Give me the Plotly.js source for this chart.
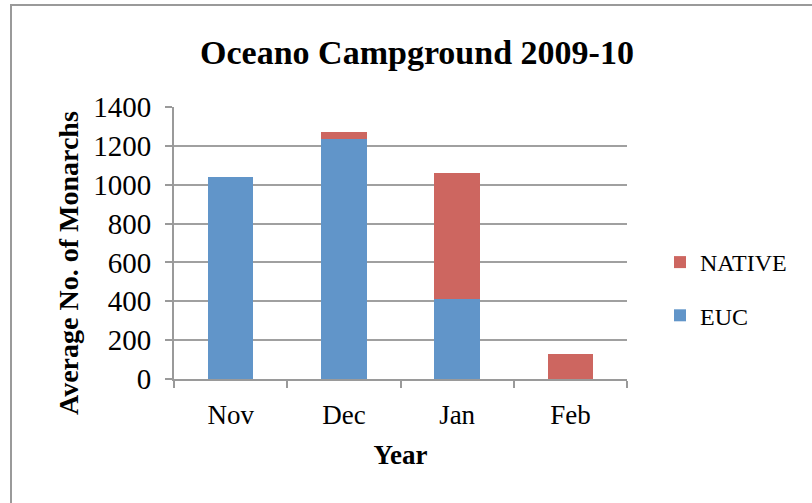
<!DOCTYPE html>
<html><head><meta charset="utf-8">
<script src="https://cdn.plot.ly/plotly-3.0.1.min.js"></script>
<style>
html,body{margin:0;padding:0;background:#fff;}
#wrap{position:relative;width:812px;height:503px;overflow:hidden;}
#chart{position:absolute;left:0;top:0;width:812px;height:503px;}
#frame{position:absolute;left:10px;top:4px;width:820px;height:520px;border-left:2px solid #9a9a9a;border-top:2px solid #9a9a9a;pointer-events:none;}
</style></head>
<body><div id="wrap"><div id="chart"></div><div id="frame"></div></div>
<script>
var months = ["Nov", "Dec", "Jan", "Feb"];
var eucValues = [1040, 1235, 410, 0];
var nativeValues = [0, 35, 650, 130];
var yTicks = [0, 200, 400, 600, 800, 1000, 1200, 1400];

var serif = "'Liberation Serif', 'Times New Roman', serif";
var traces = [
  {type: "bar", name: "EUC", x: months, y: eucValues, marker: {color: "#6195c9"}, legendgroup: "a", legendrank: 2, hoverinfo: "skip"},
  {type: "bar", name: "NATIVE", x: months, y: nativeValues, marker: {color: "#cd6660"}, legendgroup: "b", legendrank: 1, hoverinfo: "skip"}
];
var layout = {
  width: 812, height: 503,
  margin: {l: 174, r: 185, t: 107, b: 124},
  paper_bgcolor: "#fff", plot_bgcolor: "#fff",
  barmode: "stack", bargap: 0.6,
  font: {family: serif, color: "#000", size: 22},
  title: {text: "<b>Oceano Campground 2009-10</b>", font: {family: serif, size: 34, color: "#000"}, x: 417/812, xref: "container", xanchor: "center", y: 1 - 52/503, yanchor: "middle", yref: "container"},
  xaxis: {
    tickvals: months, ticktext: months, tickson: "boundaries",
    ticks: "outside", ticklen: 7, tickcolor: "#9a9a9a", tickwidth: 2,
    showline: true, linecolor: "#9a9a9a", linewidth: 2,
    tickfont: {family: serif, size: 27, color: "#000"},
    ticklabelstandoff: 11,
    title: {text: "<b>Year</b>", font: {family: serif, size: 27, color: "#000"}, standoff: 16},
    showgrid: false, zeroline: false, fixedrange: true
  },
  yaxis: {
    range: [0, 1400], tickvals: yTicks, ticktext: yTicks.map(String),
    ticks: "outside", ticklen: 7, tickcolor: "#9a9a9a", tickwidth: 2,
    showline: true, linecolor: "#9a9a9a", linewidth: 2,
    showgrid: true, gridcolor: "#a0a0a0", gridwidth: 2,
    zeroline: false,
    tickfont: {family: serif, size: 29, color: "#000"},
    ticklabelstandoff: 8,
    fixedrange: true
  },
  annotations: [{
    text: "<b>Average No. of Monarchs</b>", textangle: -90, showarrow: false,
    xref: "paper", yref: "paper", x: (68 - 174) / 453, y: (379 - 263) / 272,
    xanchor: "center", yanchor: "middle",
    font: {family: serif, size: 28, color: "#000"}
  }],
  showlegend: true,
  legend: {xref: "container", yref: "container", x: 660/812, xanchor: "left", y: 1 - 289/503, yanchor: "middle", traceorder: "grouped", tracegroupgap: 19,
    font: {family: serif, size: 24, color: "#000"}, itemwidth: 30, bgcolor: "rgba(0,0,0,0)"}
};
Plotly.newPlot("chart", traces, layout, {staticPlot: true, displayModeBar: false});
</script></body></html>
